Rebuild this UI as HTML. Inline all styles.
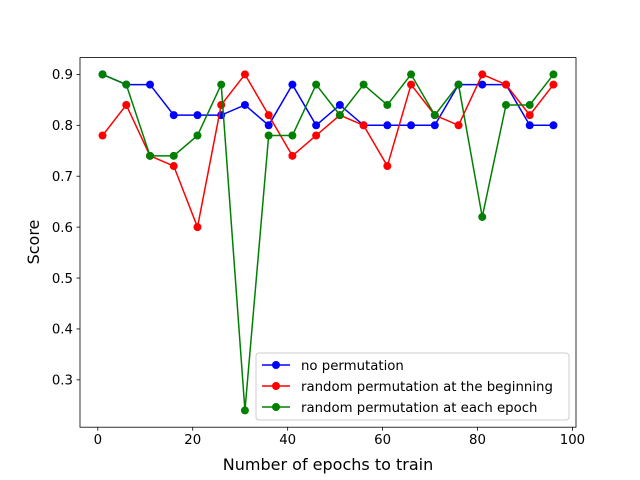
<!DOCTYPE html>
<html><head><meta charset="utf-8"><style>body{margin:0;background:#fff}svg{display:block;font-family:"DejaVu Sans","Liberation Sans",sans-serif}</style></head>
<body>
<svg id="chart" width="640" height="480" xmlns="http://www.w3.org/2000/svg"></svg>
<script>
const epochs=[1,6,11,16,21,26,31,36,41,46,51,56,61,66,71,76,81,86,91,96];
const noPerm=[0.90,0.88,0.88,0.82,0.82,0.82,0.84,0.80,0.88,0.80,0.84,0.80,0.80,0.80,0.80,0.88,0.88,0.88,0.80,0.80];
const permBegin=[0.78,0.84,0.74,0.72,0.60,0.84,0.90,0.82,0.74,0.78,0.82,0.80,0.72,0.88,0.82,0.80,0.90,0.88,0.82,0.88];
const permEach=[0.90,0.88,0.74,0.74,0.78,0.88,0.24,0.78,0.78,0.88,0.82,0.88,0.84,0.90,0.82,0.88,0.62,0.84,0.84,0.90];
const xTicks=[0,20,40,60,80,100];
const yTicks=[0.3,0.4,0.5,0.6,0.7,0.8,0.9];
const seriesNames=["no permutation","random permutation at the beginning","random permutation at each epoch"];
const NS="http://www.w3.org/2000/svg";
const svg=document.getElementById('chart');
const L=80,R=576,T=57.6,B=427.2;
const allY=noPerm.concat(permBegin,permEach);
const xmin=Math.min(...epochs),xmax=Math.max(...epochs),xm=(xmax-xmin)*0.05;
const ymin=Math.min(...allY),ymax=Math.max(...allY),ym=(ymax-ymin)*0.05;
const X=v=>L+(v-(xmin-xm))/((xmax+xm)-(xmin-xm))*(R-L);
const Y=v=>B-(v-(ymin-ym))/((ymax+ym)-(ymin-ym))*(B-T);
function el(t,a,p){const e=document.createElementNS(NS,t);for(const k in a)e.setAttribute(k,a[k]);(p||svg).appendChild(e);return e;}
for(const t of xTicks){
 const g=el('g',{});
 
 
 el('line',{x1:X(t),x2:X(t),y1:B,y2:B+3.5,stroke:'#000','stroke-width':0.8},g);
 const tx=el('text',{x:X(t),y:B+17,'font-size':13.3,'text-anchor':'middle'},g);tx.textContent=t;
}
for(const t of yTicks){
 const g=el('g',{});
 
 
 el('line',{x1:L-3.5,x2:L,y1:Y(t),y2:Y(t),stroke:'#000','stroke-width':0.8},g);
 const tx=el('text',{x:L-7,y:Y(t)+4.8,'font-size':13.3,'text-anchor':'end'},g);tx.textContent=t.toFixed(1);
}
const colors=['#0000ff','#ff0000','#008000'];
[noPerm,permBegin,permEach].forEach((s,i)=>{
 const g=el('g',{});
 
 
 el('polyline',{points:s.map((v,j)=>X(epochs[j])+','+Y(v)).join(' '),fill:'none',stroke:colors[i],'stroke-width':1.5},g);
 s.forEach((v,j)=>{const c=el('circle',{cx:X(epochs[j]),cy:Y(v),r:4,fill:colors[i]},g);
  
  });
});
const frame=el('rect',{x:L,y:T,width:R-L,height:B-T,fill:'none',stroke:'#000','stroke-width':0.8});


const xl=el('text',{x:(L+R)/2,y:470,'font-size':16,'text-anchor':'middle'});xl.textContent='Number of epochs to train';


const yl=el('text',{x:0,y:0,'font-size':16,'text-anchor':'middle',transform:'translate(39,242) rotate(-90)'});yl.textContent='Score';


const lg=el('g',{});


el('rect',{x:256,y:353,width:313,height:67,rx:3,fill:'#fff','fill-opacity':0.8,stroke:'#ccc'},lg);
seriesNames.forEach((n,i)=>{
 const y=365+i*21;
 const e=el('g',{},lg);
 
 
 el('line',{x1:262,x2:290,y1:y,y2:y,stroke:colors[i],'stroke-width':1.5},e);
 el('circle',{cx:276,cy:y,r:4,fill:colors[i]},e);
 const t=el('text',{x:301,y:y+4.8,'font-size':13.3},e);t.textContent=n;
});
</script>
</body></html>
